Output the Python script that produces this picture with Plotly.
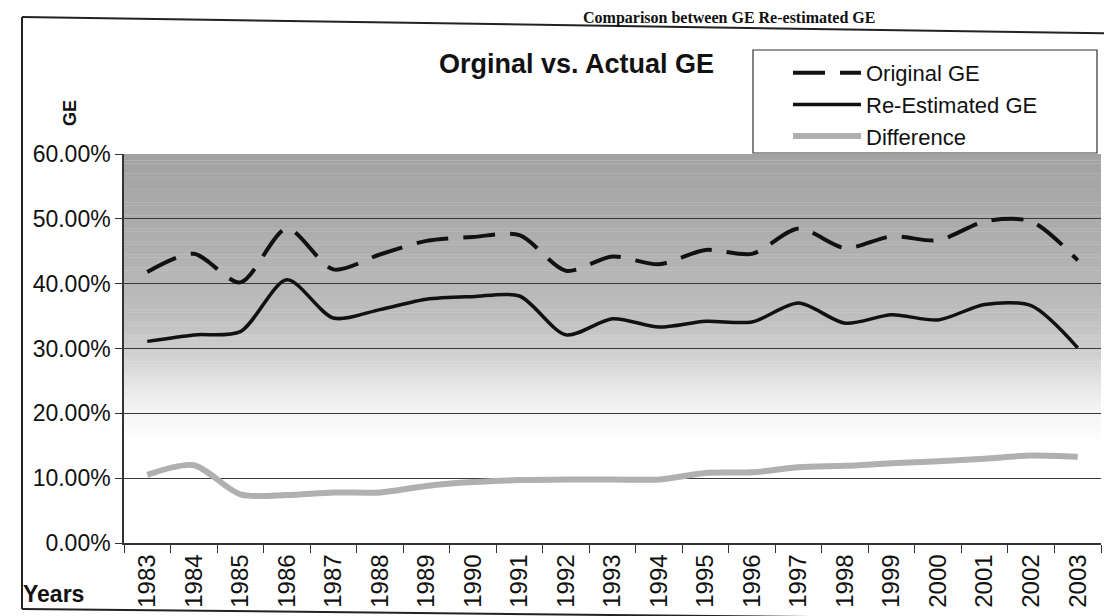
import plotly.graph_objects as go

# ---------------- data ----------------
years = ["1983", "1984", "1985", "1986", "1987", "1988", "1989", "1990", "1991", "1992",
         "1993", "1994", "1995", "1996", "1997", "1998", "1999", "2000", "2001", "2002", "2003"]
original_ge = [41.8, 44.6, 40.2, 48.5, 42.2, 44.5, 46.6, 47.2, 47.5, 42.0,
               44.2, 43.0, 45.2, 44.6, 48.5, 45.5, 47.3, 46.7, 49.6, 49.6, 43.6]
reestimated_ge = [31.1, 32.1, 32.6, 40.6, 34.7, 36.0, 37.6, 38.0, 38.1, 32.1,
                  34.6, 33.3, 34.2, 34.1, 37.0, 33.9, 35.2, 34.4, 36.8, 36.6, 30.1]
difference = [10.5, 12.0, 7.5, 7.4, 7.8, 7.8, 8.8, 9.4, 9.7, 9.8,
              9.8, 9.8, 10.8, 10.9, 11.7, 11.9, 12.3, 12.6, 13.0, 13.5, 13.3]
y_ticks = [0, 0.1, 0.2, 0.3, 0.4, 0.5, 0.6]

# ---------------- layout geometry (pixels) ----------------
FW, FH = 1112, 616
L, R, T, B = 116, 1093, 146, 535
W, H = R - L, B - T


def px(x):
    return (x - L) / W


def py(y):
    return (B - y) / H


FONT = "Liberation Sans, Arial, sans-serif"

fig = go.Figure()

fig.add_trace(go.Scatter(
    x=years, y=[v / 100 for v in original_ge], name="Original GE", mode="lines",
    line=dict(color="#111111", width=4, dash="32px,15px", shape="spline", smoothing=0.8)))
fig.add_trace(go.Scatter(
    x=years, y=[v / 100 for v in reestimated_ge], name="Re-Estimated GE", mode="lines",
    line=dict(color="#111111", width=3.5, shape="spline", smoothing=0.8)))
fig.add_trace(go.Scatter(
    x=years, y=[v / 100 for v in difference], name="Difference", mode="lines",
    line=dict(color="#b0b0b0", width=6, shape="spline", smoothing=0.8)))

shapes = []
# gradient plot background (dark grey at top fading to white)
stops = [(0.0, 255), (0.15, 255), (0.19, 248), (0.24, 232), (0.29, 208),
         (0.35, 190), (0.45, 176), (0.60, 162)]


def grey(v):
    for (a, ga), (b, gb) in zip(stops[:-1], stops[1:]):
        if a <= v <= b:
            t = (v - a) / (b - a)
            return int(round(ga + t * (gb - ga)))
    return stops[-1][1]


n = 120
for i in range(n):
    y0 = 0.6 * i / n
    y1 = 0.6 * (i + 1) / n
    g = grey((y0 + y1) / 2)
    shapes.append(dict(type="rect", xref="x domain", yref="y", x0=0, x1=1, y0=y0, y1=y1 + 0.0005,
                       fillcolor=f"rgb({g},{g},{g})", line=dict(width=0), layer="below"))

# outer chart border (scanned frame: top, left and bottom edges)
border = dict(color="#222222", width=2)
shapes.append(dict(type="line", xref="paper", yref="paper",
                   x0=px(14), y0=py(9), x1=px(1140), y1=py(26), line=border, layer="above"))
shapes.append(dict(type="line", xref="paper", yref="paper",
                   x0=px(14), y0=py(9), x1=px(14), y1=py(601), line=border, layer="above"))
shapes.append(dict(type="line", xref="paper", yref="paper",
                   x0=px(14), y0=py(601), x1=px(1000), y1=py(611), line=border, layer="above"))
# legend box
shapes.append(dict(type="rect", xref="paper", yref="paper",
                   x0=px(745), x1=px(1089), y0=py(145), y1=py(42),
                   line=dict(color="#333333", width=1.2), fillcolor="white", layer="below"))

annotations = [
    dict(text="<b>Orginal vs. Actual GE</b>", xref="paper", yref="paper",
         x=px(568), y=py(56), xanchor="center", yanchor="middle", showarrow=False,
         font=dict(family=FONT, size=27, color="#111111")),
    dict(text="<b>GE</b>", xref="paper", yref="paper", x=px(62), y=py(105),
         xanchor="center", yanchor="middle", textangle=-90, showarrow=False,
         font=dict(family=FONT, size=18, color="#111111")),
    dict(text="<b>Years</b>", xref="paper", yref="paper", x=px(13), y=py(586),
         xanchor="left", yanchor="middle", showarrow=False,
         font=dict(family=FONT, size=23, color="#111111")),
    dict(text="<b>Comparison between GE Re-estimated GE</b>", xref="paper", yref="paper",
         x=px(869), y=py(-1), xanchor="right", yanchor="top", showarrow=False,
         font=dict(family="Liberation Serif, Times New Roman, serif", size=16, color="#111111")),
]

fig.update_layout(
    width=FW, height=FH,
    margin=dict(l=L, r=FW - R, t=T, b=FH - B, autoexpand=False),
    paper_bgcolor="white", plot_bgcolor="white",
    font=dict(family=FONT, size=22, color="#111111"),
    showlegend=True,
    legend=dict(x=px(780), y=py(44), xanchor="left", yanchor="top",
                bgcolor="rgba(0,0,0,0)", borderwidth=0, itemwidth=68,
                font=dict(family=FONT, size=22, color="#111111"), tracegroupgap=2),
    shapes=shapes,
    annotations=annotations,
)

fig.update_xaxes(
    type="category", range=[-0.5, 20.5], tickangle=-90, tickson="boundaries",
    ticks="outside", ticklen=8, tickcolor="#333333", tickwidth=1,
    showline=True, linecolor="#333333", linewidth=1.5, showgrid=False,
    tickfont=dict(family=FONT, size=24, color="#111111"), automargin=False)
fig.update_yaxes(
    range=[0, 0.6], tickvals=y_ticks, tickformat=".2%",
    ticks="outside", ticklen=7, tickcolor="#333333",
    showline=True, linecolor="#333333", linewidth=1.5,
    showgrid=True, gridcolor="#3a3a3a", gridwidth=1, zeroline=False,
    tickfont=dict(family=FONT, size=23, color="#111111"), automargin=False)

fig.write_html("out.html")
